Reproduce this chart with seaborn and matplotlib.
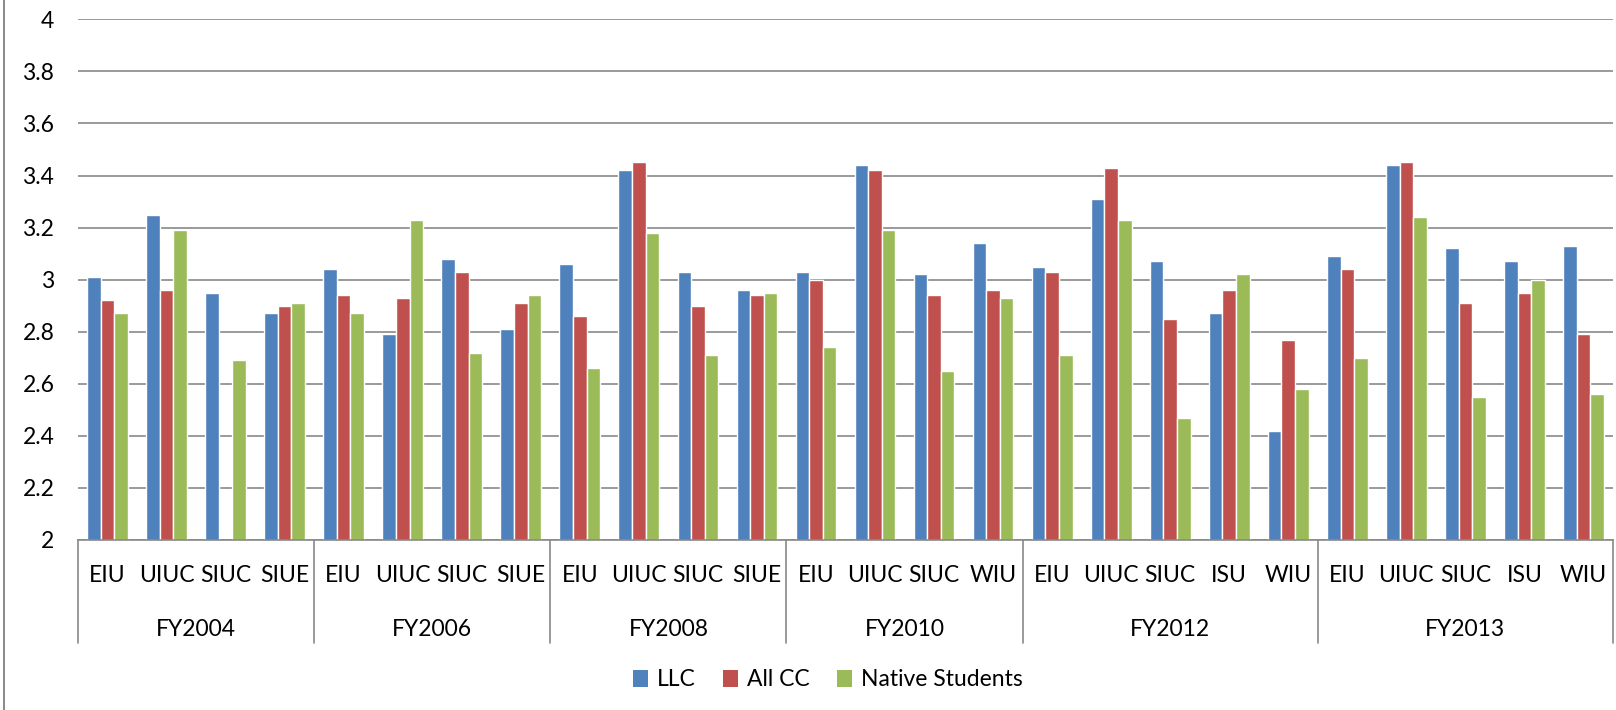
import pandas as pd
import numpy as np
import matplotlib
matplotlib.use("Agg")
import matplotlib.pyplot as plt
from matplotlib.lines import Line2D
from matplotlib.patches import Patch
import seaborn as sns

# ======================================================
# DATA
# ======================================================
years = ["FY2004", "FY2006", "FY2008", "FY2010", "FY2012", "FY2013"]
schools = [
    ["EIU", "UIUC", "SIUC", "SIUE"],
    ["EIU", "UIUC", "SIUC", "SIUE"],
    ["EIU", "UIUC", "SIUC", "SIUE"],
    ["EIU", "UIUC", "SIUC", "WIU"],
    ["EIU", "UIUC", "SIUC", "ISU", "WIU"],
    ["EIU", "UIUC", "SIUC", "ISU", "WIU"],
]
series_names = ["LLC", "All CC", "Native Students"]

llc = [3.01, 3.25, 2.95, 2.87,
       3.04, 2.79, 3.08, 2.81,
       3.06, 3.42, 3.03, 2.96,
       3.03, 3.44, 3.02, 3.14,
       3.05, 3.31, 3.07, 2.87, 2.42,
       3.09, 3.44, 3.12, 3.07, 3.13]
all_cc = [2.92, 2.96, np.nan, 2.90,
          2.94, 2.93, 3.03, 2.91,
          2.86, 3.45, 2.90, 2.94,
          3.00, 3.42, 2.94, 2.96,
          3.03, 3.43, 2.85, 2.96, 2.77,
          3.04, 3.45, 2.91, 2.95, 2.79]
native = [2.87, 3.19, 2.69, 2.91,
          2.87, 3.23, 2.72, 2.94,
          2.66, 3.18, 2.71, 2.95,
          2.74, 3.19, 2.65, 2.93,
          2.71, 3.23, 2.47, 3.02, 2.58,
          2.70, 3.24, 2.55, 3.00, 2.56]

# ======================================================
# BUILD LONG TABLE
# ======================================================
keys, short = [], []
for y, sl in zip(years, schools):
    for s in sl:
        keys.append(y + "|" + s)
        short.append(s)

rows = []
for name, vals in zip(series_names, [llc, all_cc, native]):
    for k, v in zip(keys, vals):
        rows.append({"key": k, "series": name, "value": v})
df = pd.DataFrame(rows).dropna()

colors = ["#4F81BD", "#C0504D", "#9BBB59"]
grid_col = "#898989"
FS = 16.5

# ======================================================
# PLOT
# ======================================================
sns.set_style("white")
plt.rcParams["font.family"] = ["Lato", "DejaVu Sans"]
plt.rcParams["text.color"] = "black"
plt.rcParams["xtick.color"] = "black"
plt.rcParams["ytick.color"] = "black"

fig = plt.figure(figsize=(16.16, 7.10), dpi=100)
L, R, T, B = 78, 1613, 19.3, 540
W, H = 1616, 710
ax = fig.add_axes([L / W, 1 - B / H, (R - L) / W, (B - T) / H])

sns.barplot(data=df, x="key", y="value", hue="series", order=keys,
            hue_order=series_names, palette=colors, width=0.69,
            saturation=1, ax=ax, legend=False, errorbar=None)

ax.set_ylim(2, 4)
ax.set_xlim(-0.5, len(keys) - 0.5)
ax.set_yticks(np.arange(2, 4.01, 0.2))
ax.set_yticklabels(["2", "2.2", "2.4", "2.6", "2.8", "3", "3.2", "3.4",
                    "3.6", "3.8", "4"])
ax.set_xticks(range(len(keys)))
ax.set_xticklabels(short)
ax.tick_params(axis="y", length=0, pad=17, labelsize=FS)
ax.tick_params(axis="x", length=0, pad=18, labelsize=FS)
ax.set_xlabel("")
ax.set_ylabel("")

ax.grid(axis="y", color=grid_col, linewidth=1.2)
ax.set_axisbelow(True)
for side in ["left", "right", "top"]:
    ax.spines[side].set_visible(False)
ax.spines["bottom"].set_color(grid_col)
ax.spines["bottom"].set_linewidth(1.2)

# group separators and year labels below the axis
trans = ax.get_xaxis_transform()
low = -(643 - B) / (B - T)
start = 0
bounds = [-0.5]
for y, sl in zip(years, schools):
    end = start + len(sl)
    bounds.append(end - 0.5)
    ax.text((start + end - 1) / 2, -(630 - B) / (B - T), y, transform=trans,
            ha="center", va="center", fontsize=FS)
    start = end
for bx in bounds:
    ax.plot([bx, bx], [0, low], transform=trans, color=grid_col,
            linewidth=1.2, clip_on=False)

# outer chart border on the left
fig.add_artist(Line2D([4 / W, 4 / W], [0, 1], color=grid_col,
                      linewidth=1.4))

handles = [Patch(facecolor=c, edgecolor="none") for c in colors]
fig.legend(handles, series_names, loc="center", ncol=3,
           bbox_to_anchor=(828 / W, 1 - 680 / H), frameon=False,
           fontsize=FS, handlelength=0.65, handleheight=0.7,
           handletextpad=0.4, columnspacing=1.2)

fig.savefig("out.png", dpi=100)
